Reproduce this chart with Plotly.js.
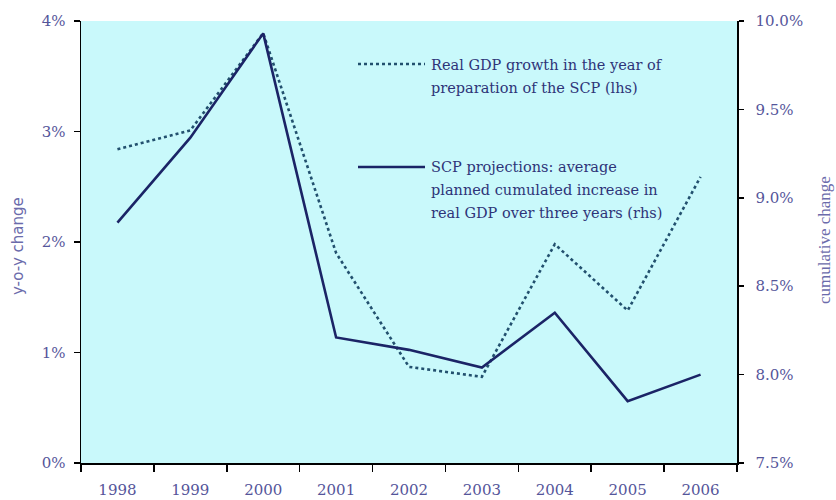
<!DOCTYPE html>
<html>
<head>
<meta charset="utf-8">
<script src="https://cdn.plot.ly/plotly-3.0.1.min.js"></script>
<style>html,body{margin:0;padding:0;background:#fff;}#chart{width:836px;height:500px;}</style>
</head>
<body>
<div id="chart"></div>
<script>
// ---- data ----
var years = ['1998', '1999', '2000', '2001', '2002', '2003', '2004', '2005', '2006'];
// Real GDP growth in the year of preparation of the SCP (lhs, %)
var realGdpGrowth = [2.84, 3.01, 3.89, 1.90, 0.87, 0.78, 1.98, 1.38, 2.59];
// SCP projections: average planned cumulated increase in real GDP over three years (rhs, %)
var scpProjections = [8.86, 9.34, 9.93, 8.21, 8.14, 8.04, 8.35, 7.85, 8.00];

var legendDotted = ['Real GDP growth in the year of', 'preparation of the SCP (lhs)'];
var legendSolid = ['SCP projections: average', 'planned cumulated increase in', 'real GDP over three years (rhs)'];
var leftTitle = 'y-o-y change';
var rightTitle = 'cumulative change';

// ---- layout helpers (pixel -> paper) ----
var L = 81, R = 737, T = 21, B = 463, W = 836, H = 500;
function px(x) { return (x - L) / (R - L); }
function py(y) { return (B - y) / (B - T); }

var tickFont = {family: 'DejaVu Serif', size: 15, color: '#55559a'};
var legFont = {family: 'DejaVu Serif', size: 14.5, color: '#2e3478'};

var traces = [
  {
    x: years, y: scpProjections, yaxis: 'y2', type: 'scatter', mode: 'lines',
    line: {color: '#1b2466', width: 2.6}, name: 'SCP projections', hoverinfo: 'x+y'
  },
  {
    x: years, y: realGdpGrowth, yaxis: 'y', type: 'scatter', mode: 'lines',
    line: {color: '#22506e', width: 2.6, dash: 'dot'}, name: 'Real GDP growth', hoverinfo: 'x+y'
  }
];

var annotations = [];
var lineYs1 = [65, 88];
legendDotted.forEach(function (t, i) {
  annotations.push({xref: 'paper', yref: 'paper', x: px(429), y: py(lineYs1[i]), xanchor: 'left', yanchor: 'middle',
    text: t, showarrow: false, font: legFont});
});
var lineYs2 = [167, 190, 213];
legendSolid.forEach(function (t, i) {
  annotations.push({xref: 'paper', yref: 'paper', x: px(429), y: py(lineYs2[i]), xanchor: 'left', yanchor: 'middle',
    text: t, showarrow: false, font: legFont});
});
annotations.push({xref: 'paper', yref: 'paper', x: px(18), y: py(246), xanchor: 'center', yanchor: 'middle',
  text: leftTitle, textangle: -90, showarrow: false, font: {family: 'DejaVu Sans', size: 15, color: '#6b6bab'}});
annotations.push({xref: 'paper', yref: 'paper', x: px(824), y: py(240), xanchor: 'center', yanchor: 'middle',
  text: rightTitle, textangle: -90, showarrow: false, font: {family: 'Liberation Serif', size: 17, color: '#6b6bab'}});

var shapes = [
  {type: 'line', xref: 'paper', yref: 'paper', x0: px(358), x1: px(425), y0: py(64), y1: py(64),
   line: {color: '#22506e', width: 2.6, dash: 'dot'}},
  {type: 'line', xref: 'paper', yref: 'paper', x0: px(358), x1: px(425), y0: py(167), y1: py(167),
   line: {color: '#1b2466', width: 2.6}}
];

var layout = {
  width: W, height: H,
  margin: {l: L, r: W - R, t: T, b: H - B, pad: 0},
  paper_bgcolor: '#ffffff',
  plot_bgcolor: '#c9f9fb',
  showlegend: false,
  xaxis: {
    type: 'category', range: [-0.5, years.length - 0.5], showgrid: false, zeroline: false,
    showline: true, linecolor: '#000', linewidth: 1.5,
    ticks: 'outside', tickson: 'boundaries', ticklen: 7, tickcolor: '#000', tickwidth: 1.5,
    tickfont: tickFont, ticklabelstandoff: 12, fixedrange: true
  },
  yaxis: {
    range: [0, 4], dtick: 1, ticksuffix: '%', showgrid: false, zeroline: false,
    showline: true, linecolor: '#000', linewidth: 1.5,
    ticks: 'outside', ticklen: 6, tickcolor: '#000', tickwidth: 1.5,
    tickfont: tickFont, ticklabelstandoff: 5, fixedrange: true
  },
  yaxis2: {
    overlaying: 'y', side: 'right', anchor: 'x',
    range: [7.5, 10], dtick: 0.5, tickformat: '.1f', ticksuffix: '%', showgrid: false, zeroline: false,
    showline: true, linecolor: '#000', linewidth: 1.5,
    ticks: 'outside', ticklen: 5, tickcolor: '#000', tickwidth: 1.5,
    tickfont: tickFont, ticklabelstandoff: 9, fixedrange: true
  },
  yaxis3: {
    overlaying: 'y', side: 'right', anchor: 'x',
    range: [7.5, 10], dtick: 0.5, showgrid: false, zeroline: false, showline: false,
    ticks: 'inside', ticklen: 5, tickcolor: '#000', tickwidth: 1.5,
    showticklabels: false, fixedrange: true
  },
  annotations: annotations,
  shapes: shapes
};

Plotly.newPlot('chart', traces, layout, {displayModeBar: false, staticPlot: true});
</script>
</body>
</html>
